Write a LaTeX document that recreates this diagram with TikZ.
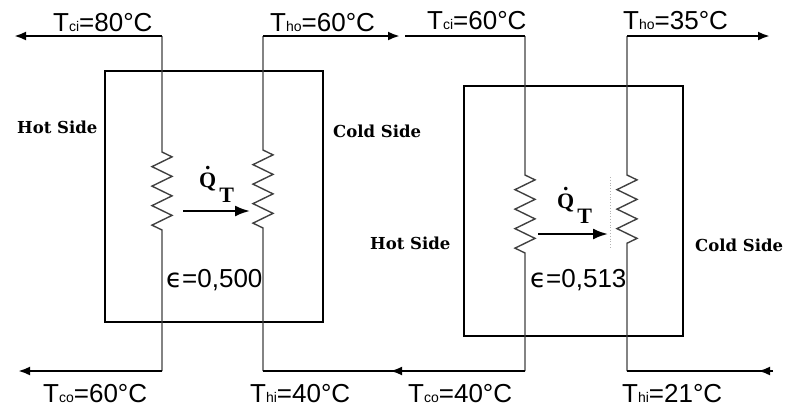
\documentclass[tikz,border=0pt]{standalone}
\usepackage{fontspec}
\setmainfont{Liberation Sans}
\newfontfamily\sidefont{DejaVu Serif}
\newfontfamily\qfont{Liberation Serif}
\newfontfamily\epsfont{DejaVu Sans}
\usetikzlibrary{arrows.meta,decorations.pathmorphing,decorations.markings}
\newcommand{\tlabel}[2]{T{\fontsize{14}{14}\selectfont #1}=#2°C}
\newcommand{\qdotT}{\ooalign{\hfil\raisebox{18pt}{.}\hfil\cr Q}\kern3pt\raisebox{-15pt}{T}}
\begin{document}
\begin{tikzpicture}[x=1pt,y=-1pt]
\tikzset{pipe/.style={draw=black!75, line width=1.4pt},
  flow/.style={draw=black, line width=2.4pt},
  hxbox/.style={draw=black, line width=2.6pt},
  heat/.style={draw=black, line width=2.2pt, -{Latex[length=15pt,width=11pt]}},
  tip/.style={-{Latex[length=12pt,width=9pt]}},
  resist/.style={decoration={zigzag, segment length=19.5pt, amplitude=10pt}},
  templabel/.style={anchor=base west, inner sep=0pt, font=\fontsize{26}{28}\selectfont},
  sidelabel/.style={anchor=base west, inner sep=0pt, font=\sidefont\bfseries\fontsize{16.5}{18}\selectfont},
  qlabel/.style={anchor=base west, inner sep=0pt, font=\qfont\bfseries\fontsize{22}{24}\selectfont}}
\useasboundingbox (0,0) rectangle (790,408);
\draw[hxbox] (105,71) rectangle (323,322);
\draw[hxbox] (464,86) rectangle (683,336);
\coordinate (h1top) at (162,36);
\coordinate (h1rt) at (162,152);
\coordinate (h1rb) at (162,230);
\coordinate (h1bot) at (162,371);
\coordinate (c1top) at (263,36);
\coordinate (c1rt) at (263,150);
\coordinate (c1rb) at (263,228);
\coordinate (c1bot) at (263,371);
\coordinate (h2top) at (525,36);
\coordinate (h2rt) at (525,175);
\coordinate (h2rb) at (525,255);
\coordinate (h2bot) at (525,371);
\coordinate (c2top) at (627,36);
\coordinate (c2rt) at (627,175);
\coordinate (c2rb) at (627,252);
\coordinate (c2bot) at (627,371);
\coordinate (outTL) at (14,36);
\coordinate (midTa) at (400,36);
\coordinate (midTb) at (405,36);
\coordinate (outTR) at (770,36);
\coordinate (outBL) at (18,371);
\coordinate (inBR) at (773,371);
\draw[pipe] (h1top) -- (h1rt) decorate[resist]{-- (h1rb)} -- (h1bot);
\draw[pipe] (c1top) -- (c1rt) decorate[resist]{-- (c1rb)} -- (c1bot);
\draw[pipe] (h2top) -- (h2rt) decorate[resist]{-- (h2rb)} -- (h2bot);
\draw[pipe] (c2top) -- (c2rt) decorate[resist]{-- (c2rb)} -- (c2bot);
\draw[black!30, line width=0.8pt, dotted] (610,177) -- (610,248);
\draw[flow,tip] (h1top) -- (outTL);
\draw[flow,tip] (c1top) -- (midTa);
\draw[flow] (midTb) -- (h2top);
\draw[flow,tip] (c2top) -- (outTR);
\draw[flow,tip] (h1bot) -- (outBL);
\draw[flow, postaction={decorate}, decoration={markings,
  mark=at position 0.515 with {\arrow{Latex[length=12pt,width=9pt]}}}] (h2bot) -- (c1bot);
\draw[flow, postaction={decorate}, decoration={markings,
  mark=at position 15pt with {\arrow{Latex[length=12pt,width=9pt]}}}] (inBR) -- (c2bot);
\coordinate (q1s) at (183,211);
\coordinate (q1e) at (250,211);
\coordinate (q2s) at (538,234);
\coordinate (q2e) at (608,234);
\draw[heat] (q1s) -- (q1e);
\draw[heat] (q2s) -- (q2e);
\node[qlabel] (qdot1) at (199,187) {\qdotT};
\node[qlabel] (qdot2) at (557,208) {\qdotT};
\node[templabel] (tci1) at (53,31) {\tlabel{ci}{80}};
\node[templabel] (tho1) at (270,31) {\tlabel{ho}{60}};
\node[templabel] (tci2) at (427,29) {\tlabel{ci}{60}};
\node[templabel] (tho2) at (623,29) {\tlabel{ho}{35}};
\node[templabel] (tco1) at (43,402) {\tlabel{co}{60}};
\node[templabel] (thi1) at (250,402) {\tlabel{hi}{40}};
\node[templabel] (tco2) at (408,402) {\tlabel{co}{40}};
\node[templabel] (thi2) at (622,402) {\tlabel{hi}{21}};
\node[templabel] (eps1) at (166,287) {{\epsfont ϵ}=0,500};
\node[templabel] (eps2) at (530,287) {{\epsfont ϵ}=0,513};
\node[sidelabel] (hot1) at (17,133) {Hot Side};
\node[sidelabel] (cold1) at (333,137) {Cold Side};
\node[sidelabel] (hot2) at (370,249) {Hot Side};
\node[sidelabel] (cold2) at (695,251) {Cold Side};
\end{tikzpicture}
\end{document}
